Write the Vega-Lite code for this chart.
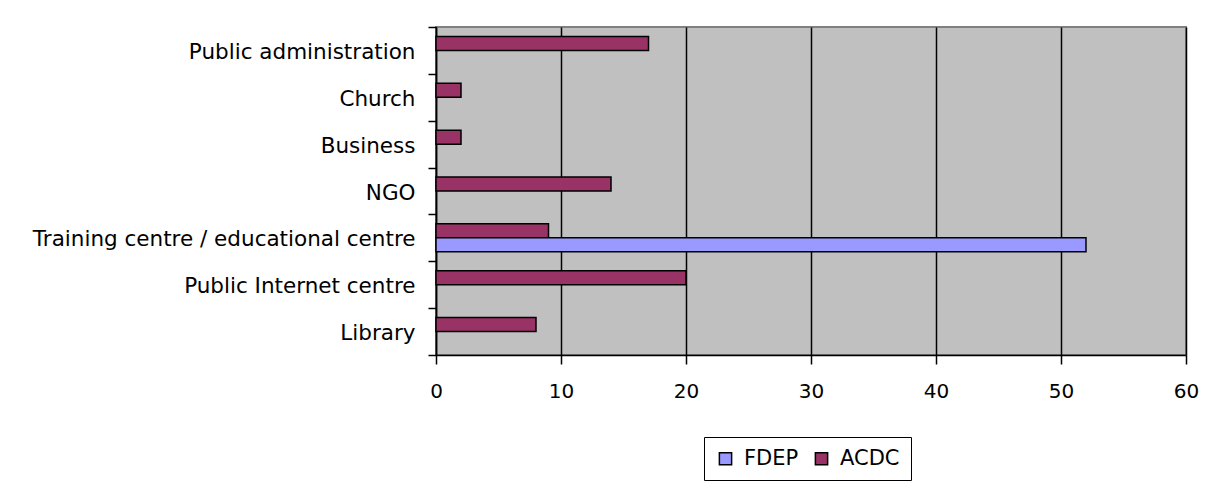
{
  "$schema": "https://vega.github.io/schema/vega-lite/v6.json",
  "autosize": "none",
  "width": 750,
  "height": 328,
  "padding": {"left": 436, "top": 27, "right": 33, "bottom": 131},
  "background": "white",
  "config": {
    "font": "DejaVu Sans",
    "view": {"fill": "#C0C0C0", "stroke": "#808080", "strokeWidth": 2}
  },
  "data": {
    "values": [
      {"category": "Public administration", "series": "ACDC", "value": 17},
      {"category": "Church", "series": "ACDC", "value": 2},
      {"category": "Business ", "series": "ACDC", "value": 2},
      {"category": "NGO", "series": "ACDC", "value": 14},
      {"category": "Training centre / educational centre", "series": "ACDC", "value": 9},
      {"category": "Training centre / educational centre", "series": "FDEP", "value": 52},
      {"category": "Public Internet centre", "series": "ACDC", "value": 20},
      {"category": "Library", "series": "ACDC", "value": 8}
    ]
  },
  "mark": {"type": "bar", "stroke": "black", "strokeWidth": 1.5},
  "encoding": {
    "y": {
      "field": "category",
      "type": "nominal",
      "sort": ["Public administration", "Church", "Business ", "NGO", "Training centre / educational centre", "Public Internet centre", "Library"],
      "scale": {"paddingInner": 0, "paddingOuter": 0},
      "axis": {
        "title": null,
        "tickBand": "extent",
        "domainColor": "black",
        "domainWidth": 1.5,
        "tickColor": "black",
        "tickWidth": 1.5,
        "tickSize": 8,
        "labelPadding": 13,
        "labelOffset": 2,
        "labelFontSize": 21.5,
        "labelColor": "black",
        "labelLimit": 500,
        "grid": false
      }
    },
    "yOffset": {
      "field": "series",
      "type": "nominal",
      "scale": {"domain": ["ACDC", "FDEP"], "paddingInner": 0, "paddingOuter": 0.674}
    },
    "x": {
      "field": "value",
      "type": "quantitative",
      "scale": {"domain": [0, 60], "nice": false},
      "axis": {
        "title": null,
        "values": [0, 10, 20, 30, 40, 50, 60],
        "grid": true,
        "gridColor": "black",
        "gridWidth": 1.5,
        "gridOpacity": 1,
        "domainColor": "black",
        "domainWidth": 1.5,
        "tickColor": "black",
        "tickWidth": 1.5,
        "tickSize": 9,
        "labelFlush": false,
        "labelPadding": 17,
        "labelFontSize": 20,
        "labelColor": "black"
      }
    },
    "color": {
      "field": "series",
      "type": "nominal",
      "scale": {"domain": ["FDEP", "ACDC"], "range": ["#9999FF", "#993366"]},
      "legend": {
        "title": null,
        "orient": "none",
        "direction": "horizontal",
        "legendX": 268,
        "legendY": 410,
        "strokeColor": "black",
        "padding": 11,
        "symbolType": "square",
        "symbolSize": 150,
        "symbolStrokeColor": "black",
        "symbolStrokeWidth": 1.5,
        "labelFontSize": 21,
        "labelColor": "black",
        "labelOffset": 8,
        "columnPadding": 12,
        "symbolOffset": 0
      }
    }
  }
}
